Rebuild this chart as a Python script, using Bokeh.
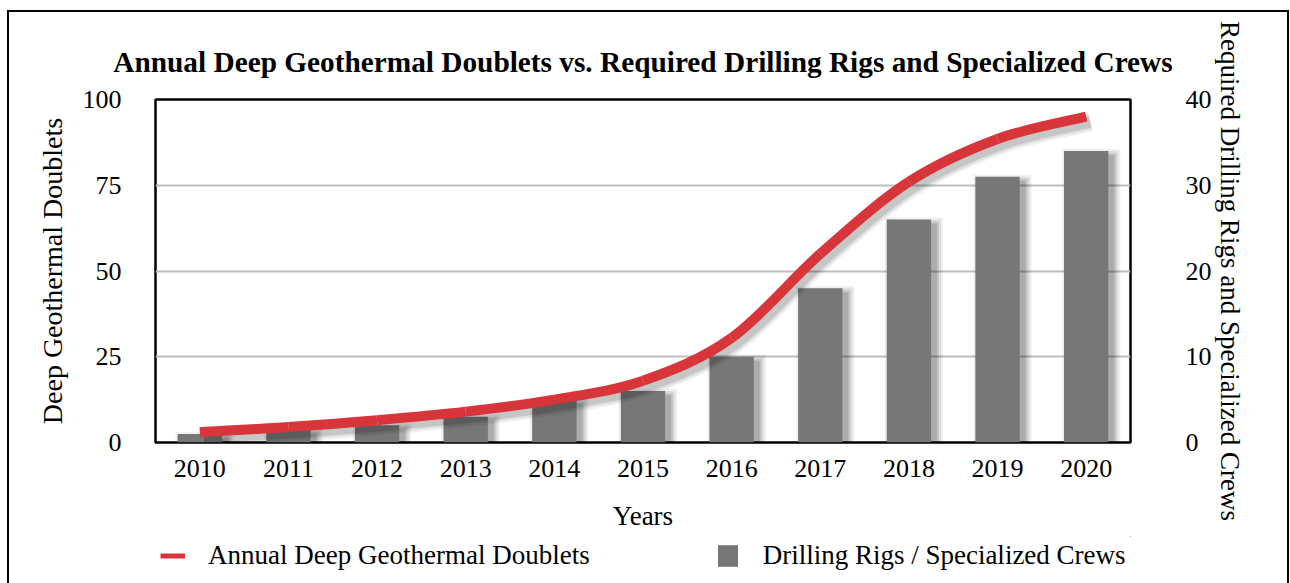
from bokeh.plotting import figure
from bokeh.layouts import column
from bokeh.models import (Range1d, LinearAxis, FixedTicker, Legend, LegendItem)
from bokeh.embed import file_html
from bokeh.resources import INLINE

# ---- data ----
years = ["2010", "2011", "2012", "2013", "2014", "2015", "2016", "2017", "2018", "2019", "2020"]
doublets = [3, 4.5, 6.5, 9, 12.5, 18, 30.5, 55, 76, 88.5, 95]
rigs = [1, 1.5, 2, 3, 5, 6, 10, 18, 26, 31, 34]
left_ticks = [0, 25, 50, 75, 100]
right_ticks = [0, 10, 20, 30, 40]

title_text = "Annual Deep Geothermal Doublets vs. Required Drilling Rigs and Specialized Crews"
left_label = "Deep Geothermal Doublets"
right_label = "Required Drilling Rigs and Specialized Crews"
x_label = "Years"
line_name = "Annual Deep Geothermal Doublets"
bar_name = "Drilling Rigs / Specialized Crews"

RED = "#d8353b"
GRAY = "#777777"
FONT = "Liberation Serif"

x = list(range(len(years)))

W = 1278
HP, HL = 524, 47
ML, MR, MT, MB = 146, 157, 87, 94
p = figure(width=W, height=HP, output_backend="svg", toolbar_location=None,
           x_range=Range1d(-0.5, len(years) - 0.5), y_range=Range1d(0, 100),
           min_border_left=ML, min_border_right=MR, min_border_top=MT, min_border_bottom=MB)
p.extra_y_ranges = {"right": Range1d(0, 40)}

fw = W - ML - MR
fh = HP - MT - MB
PX_X = len(years) / fw
PX_L = 100 / fh
PX_R = 40 / fh

# title
p.title.text = title_text
p.title.text_font = FONT
p.title.text_font_size = "29.3px"
p.title.text_font_style = "bold"
p.title.text_color = "black"
p.title.align = "center"
p.title.standoff = 44

p.background_fill_color = "white"
p.border_fill_color = "white"
p.outline_line_color = "black"
p.outline_line_width = 2.5

# grid
p.xgrid.visible = False
p.ygrid.ticker = FixedTicker(ticks=left_ticks)
p.ygrid.grid_line_color = "#bdbdbd"
p.ygrid.grid_line_width = 2

# axes
def style_axis(ax, standoff, label_standoff, label_size="27px"):
    ax.axis_line_color = None
    ax.major_tick_line_color = None
    ax.minor_tick_line_color = None
    ax.major_tick_out = 0
    ax.major_tick_in = 0
    ax.minor_tick_out = 0
    ax.major_label_text_font = FONT
    ax.major_label_text_font_size = "26px"
    ax.major_label_text_color = "black"
    ax.major_label_standoff = standoff
    ax.axis_label_text_font = FONT
    ax.axis_label_text_font_size = label_size
    ax.axis_label_text_font_style = "normal"
    ax.axis_label_text_color = "black"
    ax.axis_label_standoff = label_standoff

xa = p.xaxis[0]
xa.ticker = FixedTicker(ticks=x)
xa.major_label_overrides = {i: years[i] for i in x}
xa.axis_label = x_label
style_axis(xa, 17, 21)

ya = p.yaxis[0]
ya.ticker = FixedTicker(ticks=left_ticks)
ya.axis_label = left_label
style_axis(ya, 34, 12, "28px")

ra = LinearAxis(y_range_name="right", ticker=FixedTicker(ticks=right_ticks), axis_label=right_label)
style_axis(ra, 55, 0)
ra.major_label_text_align = "right"
p.add_layout(ra, "right")

# bar shadows
for spread, alpha in [(7, 0.06), (5, 0.08), (3, 0.1), (1, 0.13)]:
    p.vbar(x=[xi + 5 * PX_X for xi in x], top=[r - (5 - spread) * PX_R for r in rigs],
           bottom=0, width=0.5 + 2 * spread * PX_X, fill_color="black", fill_alpha=alpha,
           line_color=None, y_range_name="right")

bars = p.vbar(x=x, top=rigs, bottom=0, width=0.5, fill_color=GRAY, line_color=None,
              y_range_name="right")

# smooth line (Catmull-Rom as cubic Bezier segments through data points)
def bez(xs, ys):
    n = len(xs)
    out = {k: [] for k in ["x0", "y0", "x1", "y1", "cx0", "cy0", "cx1", "cy1"]}
    for i in range(n - 1):
        a = i - 1 if i > 0 else i
        d = i + 2 if i + 2 < n else i + 1
        out["x0"].append(xs[i]); out["y0"].append(ys[i])
        out["x1"].append(xs[i + 1]); out["y1"].append(ys[i + 1])
        out["cx0"].append(xs[i] + (xs[i + 1] - xs[a]) / 6)
        out["cy0"].append(ys[i] + (ys[i + 1] - ys[a]) / 6)
        out["cx1"].append(xs[i + 1] - (xs[d] - xs[i]) / 6)
        out["cy1"].append(ys[i + 1] - (ys[d] - ys[i]) / 6)
    return out

for lw, alpha in [(20, 0.05), (16, 0.08), (12, 0.11)]:
    sh = bez([xi + 4 * PX_X for xi in x], [v - 5 * PX_L for v in doublets])
    p.bezier(line_color="black", line_alpha=alpha, line_width=lw, line_cap="butt", **sh)

seg = bez(x, doublets)
p.bezier(line_color=RED, line_width=10, line_cap="butt", **seg)

# ---- legend strip (its own small figure, below the chart) ----
p2 = figure(width=W, height=HL, output_backend="svg", toolbar_location=None,
            x_range=Range1d(-100, -90), y_range=Range1d(-100, -90),
            x_axis_location=None, y_axis_location=None, min_border=0)
p2.grid.visible = False
p2.outline_line_color = None
p2.background_fill_color = "white"
p2.border_fill_color = "white"
# renderers lie outside the strip's ranges: only their legend glyphs show
leg_line = p2.line(x=x, y=doublets, line_color=RED, line_width=5)
leg_bar = p2.vbar(x=x, top=rigs, bottom=0, width=0.5, fill_color=GRAY, line_color=None)

legend = Legend(items=[LegendItem(label=line_name, renderers=[leg_line]),
                       LegendItem(label=bar_name, renderers=[leg_bar])],
                orientation="horizontal", location=(5, HL - 35),
                label_text_font=FONT, label_text_font_size="27px", label_text_color="black",
                glyph_width=25, glyph_height=27, label_standoff=23, spacing=125,
                padding=5, margin=0, border_line_color=None, background_fill_alpha=0)
p2.add_layout(legend, "center")

layout = column(p, p2, spacing=0, margin=(10, 0, 0, 7),
                styles={"border-top": "2px solid black", "border-left": "2px solid black",
                        "border-right": "2px solid black"})

open("out.html", "w").write(file_html(layout, INLINE))
